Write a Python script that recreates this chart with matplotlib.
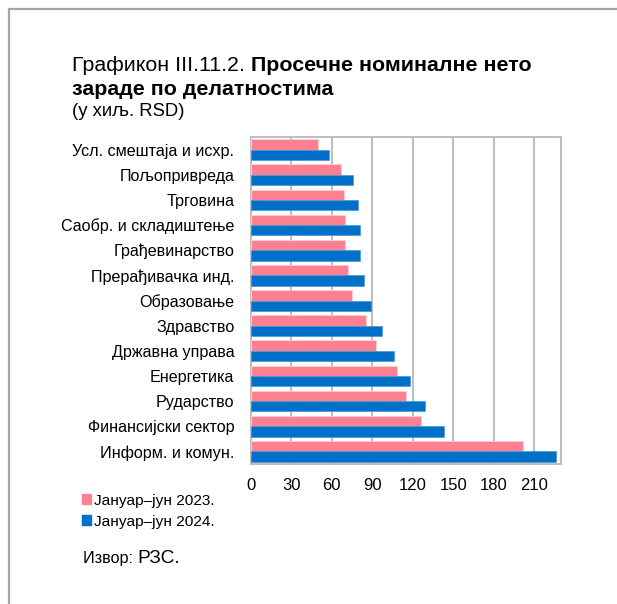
import matplotlib
matplotlib.use('Agg')
import matplotlib.pyplot as plt
from matplotlib.patches import Rectangle, Patch
import numpy as np

plt.rcParams['font.family'] = ['Liberation Sans', 'DejaVu Sans']

# average net wages by activity, thousands of RSD
sectors = ['Усл. смештаја и исхр.', 'Пољопривреда', 'Трговина',
           'Саобр. и складиштење', 'Грађевинарство', 'Прерађивачка инд.',
           'Образовање', 'Здравство', 'Државна управа', 'Енергетика',
           'Рударство', 'Финансијски сектор', 'Информ. и комун.']
h1_2023 = [50, 67, 69, 70, 70, 72, 75, 85, 93, 108, 115, 126, 202]
h1_2024 = [58, 75.5, 79.5, 80.5, 80.5, 84, 89, 97, 106, 118, 129, 143.5, 226]
xticks = [0, 30, 60, 90, 120, 150, 180, 210]

pink = '#FF8090'
blue = '#0070C8'
grey = '#BFBFBF'

W, H = 617, 604
fig = plt.figure(figsize=(W / 100, H / 100), dpi=100)

# outer frame (runs off the right and bottom edge)
fig.patches.append(Rectangle((9 / W, -0.05), 1.1, 1 - 9 / H + 0.05,
                             transform=fig.transFigure, fill=False,
                             edgecolor='#A6A6A6', linewidth=1.6))

ax = fig.add_axes([251 / W, 1 - 464 / H, 310 / W, 327 / H])
y = np.arange(len(sectors))
bh = 0.41
ax.barh(y - bh / 2, h1_2023, height=bh, color=pink, edgecolor='#FFD0D6',
        linewidth=0.6, zorder=3)
ax.barh(y + bh / 2, h1_2024, height=bh, color=blue, edgecolor='#3A8FD8',
        linewidth=0.4, zorder=3)
ax.set_ylim(len(sectors) - 0.5, -0.5)
ax.set_xlim(0, 230)
ax.set_yticks(y)
ax.set_yticklabels(sectors, fontsize=11.6)
ax.set_xticks(xticks)
ax.set_xticklabels([str(v) for v in xticks], fontsize=12)
ax.tick_params(length=0)
ax.tick_params(axis='y', pad=12)
ax.tick_params(axis='x', pad=10)
ax.grid(axis='x', color=grey, linewidth=1.5, zorder=0)
for s in ax.spines.values():
    s.set_color(grey)
    s.set_linewidth(1.5)

# title: plain number followed by bold heading
r = fig.canvas.get_renderer()
t1 = fig.text(72 / W, 1 - 71 / H, 'Графикон III.11.2. ', fontsize=15.4)
bb = t1.get_window_extent(r)
fig.text(bb.x1 / W, 1 - 71 / H, 'Просечне номиналне нето', fontsize=15.4,
         fontweight='bold')
fig.text(72 / W, 1 - 95 / H, 'зараде по делатностима', fontsize=15.4,
         fontweight='bold')
fig.text(72 / W, 1 - 116 / H, '(у хиљ. RSD)', fontsize=13.3)

handles = [Patch(color=pink), Patch(color=blue)]
fig.legend(handles, ['Јануар–јун 2023.', 'Јануар–јун 2024.'],
           loc='upper left', bbox_to_anchor=(74 / W, 1 - 486 / H),
           frameon=False, fontsize=11.1, handlelength=0.6, handleheight=0.6,
           handletextpad=0.2, labelspacing=0.45, borderpad=0)

s1 = fig.text(83 / W, 1 - 563 / H, 'Извор: ', fontsize=11.6)
bb = s1.get_window_extent(r)
fig.text(bb.x1 / W, 1 - 563 / H, 'РЗС.', fontsize=13.8)

fig.savefig('out.png', dpi=100)
